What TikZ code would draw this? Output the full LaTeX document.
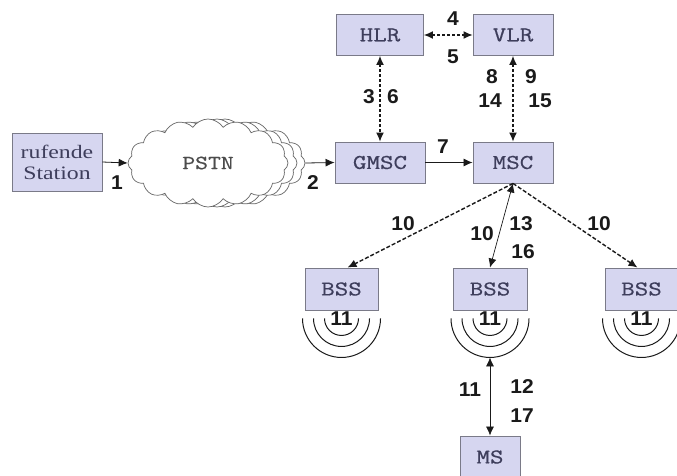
\documentclass[tikz,border=0pt]{standalone}
\usepackage{fontspec}
\usetikzlibrary{shapes.symbols,arrows.meta}
\newfontfamily\boxfont[FakeStretch=1.25,FakeBold=0.6]{Latin Modern Mono}
\newfontfamily\numfont[FakeStretch=1.05]{Liberation Sans}
\newfontfamily\serffont[FakeStretch=1.25]{Liberation Serif}
\definecolor{boxfill}{HTML}{D6D6F0}
\definecolor{boxline}{HTML}{7A7A88}
\definecolor{boxtext}{HTML}{3E3E5C}
\definecolor{numcol}{HTML}{1A1A1A}
\begin{document}
\begin{tikzpicture}[x=1pt,y=-1pt,
  box/.style={draw=boxline, fill=boxfill, line width=0.9pt, minimum height=41pt, inner sep=0pt, text=boxtext, font=\boxfont\fontsize{21}{21}\selectfont},
  num/.style={text=numcol, font=\numfont\bfseries\fontsize{20}{20}\selectfont, inner sep=0pt},
  sarrow/.style={-{Latex[length=9pt,width=8pt]}, line width=0.8pt, draw=numcol},
  darrow/.style={{Latex[length=9pt,width=8pt]}-{Latex[length=9pt,width=8pt]}, line width=1.2pt, draw=numcol, dash pattern=on 3pt off 2pt},
  dsingle/.style={-{Latex[length=9pt,width=8pt]}, line width=1.4pt, draw=numcol, dash pattern=on 4pt off 2pt},
  thin2/.style={{Latex[length=9pt,width=8pt]}-{Latex[length=9pt,width=8pt]}, line width=0.7pt, draw=numcol},
  cloudstyle/.style={cloud, cloud puffs=16, cloud puff arc=115, cloud ignores aspect, minimum width=160pt, minimum height=88pt, inner sep=0pt, draw=black!60, line width=0.7pt, fill=white},
  arcline/.style={line width=1pt, draw=numcol}
]
\useasboundingbox (0,0) rectangle (677,475);

% boxes
\node[box, minimum width=90pt, minimum height=58pt, align=center, font=\serffont\fontsize{19}{21}\selectfont] (st) at (57,162) {rufende\\Station};
\node[box, minimum width=87pt] (hlr) at (380,35) {HLR};
\node[box, minimum width=80pt] (vlr) at (513,35) {VLR};
\node[box, minimum width=90pt] (gmsc) at (380,162.5) {GMSC};
\node[box, minimum width=80pt] (msc) at (513,162.5) {MSC};
\node[box, minimum width=73pt, minimum height=42pt] (bssa) at (341.5,289) {BSS};
\node[box, minimum width=74pt, minimum height=42pt] (bssb) at (490,289) {BSS};
\node[box, minimum width=73pt, minimum height=42pt] (bssc) at (641.5,289) {BSS};
\node[box, minimum width=60pt, minimum height=42pt] (ms) at (490,457) {MS};

% cloud
\node[cloudstyle] (pstnb) at (225,163) {};
\node[cloudstyle] (pstna) at (217,163) {};
\node[cloudstyle, text=black!70, font=\boxfont\fontsize{20}{20}\selectfont] (pstn) at (208,163) {PSTN};

% antennas
\foreach \b/\n in {bssa/a,bssb/b,bssc/c}{
  \coordinate (ac\n) at ([yshift=-8pt]\b.south);
  \foreach \r in {17,28,39}{
    \draw[arcline] ([xshift=\r pt]ac\n) arc[start angle=0, end angle=180, radius=\r];
  }
  \node[num] (el\n) at (ac\n) {11};
}
\coordinate (abot) at ([yshift=-39pt]acb);

% connectors
\draw[sarrow] (st.east) -- (pstn.west);
\draw[sarrow] (pstnb.east) -- (gmsc.west);
\draw[sarrow] (gmsc.east) -- (msc.west);
\draw[darrow] (hlr.east) -- (vlr.west);
\draw[darrow] (hlr.south) -- (gmsc.north);
\draw[darrow] (vlr.south) -- (msc.north);
\draw[dsingle] (msc.south) -- ([xshift=6pt]bssa.north);
\draw[dsingle] (msc.south) -- ([xshift=-4pt]bssc.north);
\draw[thin2] (msc.south) -- (bssb.north);
\draw[thin2] (abot) -- (ms.north);

% labels
\node[num] (n1) at (117,183) {1};
\node[num] (n2) at (313,183) {2};
\node[num] (n3) at (369,97) {3};
\node[num] (n6) at (393,97) {6};
\node[num] (n4) at (453,19) {4};
\node[num] (n5) at (453,57) {5};
\node[num] (n7) at (443,147) {7};
\node[num] (n8) at (492,77) {8};
\node[num] (n9) at (531,77) {9};
\node[num] (n14) at (490,101) {14};
\node[num] (n15) at (540,101) {15};
\node[num] (n10a) at (403,224) {10};
\node[num] (n10b) at (482,234) {10};
\node[num] (n13) at (521,224) {13};
\node[num] (n16) at (523,252) {16};
\node[num] (n10c) at (599,224) {10};
\node[num] (n11m) at (470,390) {11};
\node[num] (n12) at (522,387) {12};
\node[num] (n17) at (522,416) {17};
\end{tikzpicture}
\end{document}
